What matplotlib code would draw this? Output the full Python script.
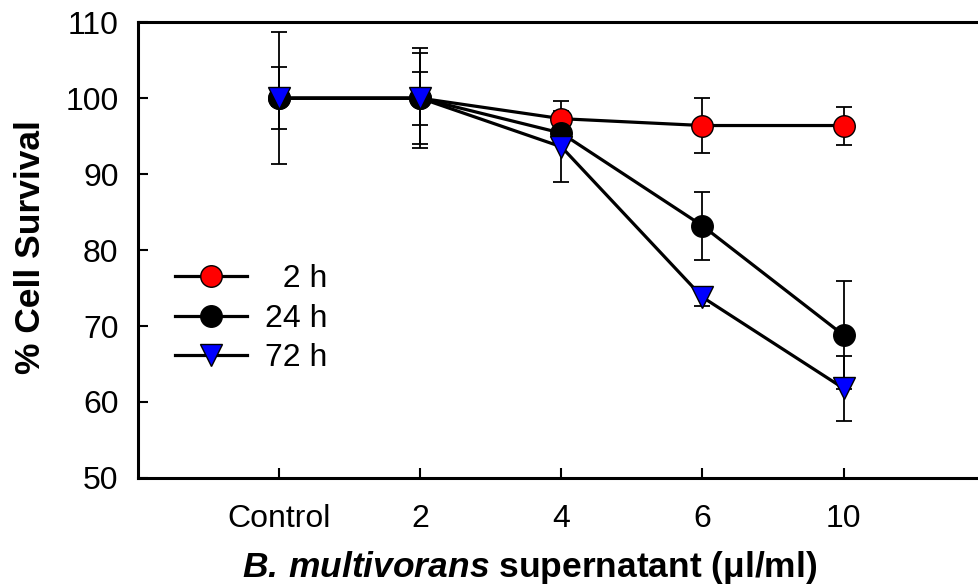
import numpy as np
import matplotlib
matplotlib.use('Agg')
import matplotlib.pyplot as plt

plt.rcParams.update({
    'font.family': ['Liberation Sans', 'DejaVu Sans'],
    'font.size': 23,
    'mathtext.fontset': 'custom',
    'mathtext.rm': 'Liberation Sans',
    'mathtext.it': 'Liberation Sans:italic',
    'mathtext.bf': 'Liberation Sans:bold',
    'mathtext.bfit': 'Liberation Sans:bold:italic',
})

# Datos
categorias = ['Control', '2', '4', '6', '10']
supervivencia_2h = [100.0, 100.0, 97.3, 96.4, 96.4]
error_2h = [4.1, 3.5, 2.3, 3.6, 2.5]
supervivencia_24h = [100.0, 100.0, 95.4, 83.2, 68.8]
error_24h = [8.7, 6.0, 1.4, 4.5, 7.1]
supervivencia_72h = [100.0, 100.0, 93.6, 73.8, 61.8]
error_72h = [1.0, 6.6, 4.7, 1.2, 4.3]
etiquetas = ['  2 h', '24 h', '72 h']

x = np.arange(len(categorias))

fig = plt.figure(figsize=(9.79, 5.85), dpi=100)
ax = fig.add_axes([0.141, 0.183, 0.859, 0.779])

series = [
    (supervivencia_2h, error_2h, 'o', 'red', etiquetas[0], 3),
    (supervivencia_24h, error_24h, 'o', 'black', etiquetas[1], 4),
    (supervivencia_72h, error_72h, 'v', 'blue', etiquetas[2], 5),
]

for valores, errores, marcador, color, etiqueta, z in series:
    ax.errorbar(x, valores, yerr=errores, fmt='none', ecolor='black',
                elinewidth=1.3, capsize=6, capthick=1.3, zorder=2)
    ax.plot(x, valores, color='black', linewidth=2.3, marker=marcador,
            markersize=15.5 if marcador == 'o' else 16.5,
            markerfacecolor=color, markeredgecolor='black',
            markeredgewidth=1.0, label=etiqueta, zorder=z)

ax.set_xlim(-1, 4.96)
ax.set_ylim(50, 110)
ax.set_yticks(np.arange(50, 111, 10))
ax.set_xticks(x)
ax.set_xticklabels(categorias)

for lado in ['left', 'bottom', 'top']:
    ax.spines[lado].set_linewidth(2.2)
ax.spines['right'].set_visible(False)
ax.tick_params(direction='in', length=7, width=1.5, labelsize=23)
ax.tick_params(axis='x', pad=19)
ax.tick_params(axis='y', pad=14)

ax.set_ylabel('% Cell Survival', fontsize=25.5, fontweight='bold')
ax.set_xlabel(r'$\mathbfit{B.\,multivorans}$' + ' supernatant (\u03bcl/ml)',
              fontsize=25.5, fontweight='bold')
ax.xaxis.set_label_coords(0.466, -0.197)
ax.xaxis.label.set_va('center')
ax.yaxis.set_label_coords(-0.128, 0.507)
ax.yaxis.label.set_va('center')

leg = ax.legend(loc='upper left', bbox_to_anchor=(0.044, 0.469), frameon=False,
                borderpad=0, borderaxespad=0,
                handlelength=2.25, handletextpad=0.56, labelspacing=0.3,
                fontsize=23)

fig.savefig('out.png', dpi=100)
